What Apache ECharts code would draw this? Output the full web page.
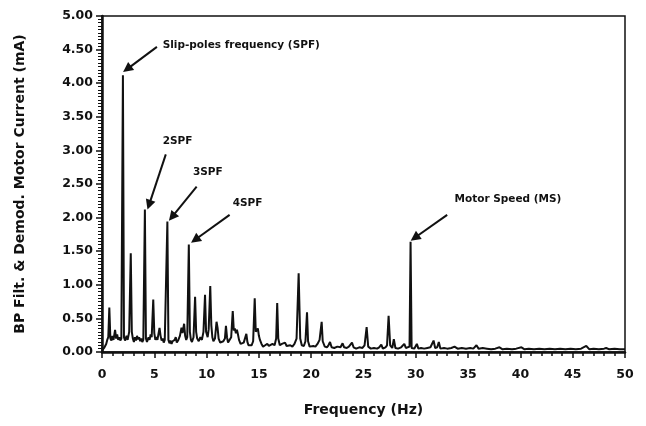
<!DOCTYPE html>
<html>
<head>
<meta charset="utf-8">
<script src="https://cdn.jsdelivr.net/npm/echarts@6.0.0/dist/echarts.min.js"></script>
<style>
  html, body { margin: 0; padding: 0; background: #fff; }
  #chart { width: 646px; height: 426px; }
</style>
</head>
<body>
<div id="chart"></div>
<script>
// spectrum: frequency (Hz) and current (mA)
var freqHz = [
  0.0, 0.2, 0.4, 0.5, 0.6, 0.7, 0.8, 0.9, 1.0, 1.1, 1.25, 1.35, 1.45, 1.55, 1.65, 1.75, 1.85,
  2.0, 2.1, 2.2, 2.35, 2.45, 2.6, 2.75, 2.85, 2.95, 3.05, 3.15, 3.25, 3.35, 3.45, 3.55, 3.65, 3.75, 3.85, 3.95,
  4.1, 4.2, 4.3, 4.45, 4.55, 4.65, 4.75, 4.9, 5.0, 5.1, 5.2, 5.3, 5.5, 5.6, 5.7, 5.8, 5.9,
  6.0, 6.1, 6.25, 6.35, 6.45, 6.55, 6.65, 6.75, 6.85, 6.95, 7.05, 7.15, 7.3, 7.45, 7.6, 7.7, 7.85, 7.95,
  8.05, 8.15, 8.3, 8.4, 8.5, 8.6, 8.75, 8.9, 9.0, 9.1, 9.25, 9.4, 9.55, 9.7, 9.85, 9.95,
  10.1, 10.2, 10.35, 10.45, 10.55, 10.65, 10.8, 10.95, 11.05, 11.15, 11.3, 11.45, 11.6, 11.75, 11.85, 11.95,
  12.05, 12.2, 12.35, 12.5, 12.6, 12.7, 12.8, 12.9, 13.0, 13.1, 13.25, 13.4, 13.55, 13.7, 13.8, 13.9,
  14.0, 14.15, 14.3, 14.45, 14.6, 14.7, 14.8, 14.9, 15.0, 15.1, 15.25, 15.4, 15.6, 15.8, 15.95,
  16.1, 16.3, 16.5, 16.65, 16.75, 16.85, 17.0, 17.2, 17.35, 17.5, 17.65, 17.8,
  18.0, 18.2, 18.4, 18.6, 18.8, 18.95, 19.1, 19.3, 19.45, 19.6, 19.7, 19.85,
  20.0, 20.2, 20.4, 20.6, 20.8, 21.0, 21.1, 21.3, 21.5, 21.65, 21.8, 21.95,
  22.2, 22.5, 22.8, 23.0, 23.15, 23.4, 23.6, 23.9, 24.05, 24.3, 24.6, 24.9,
  25.1, 25.3, 25.45, 25.7, 26.0, 26.3, 26.5, 26.7, 26.85, 27.1, 27.25, 27.4, 27.55, 27.75, 27.9,
  28.05, 28.3, 28.6, 28.9, 29.05, 29.2, 29.4, 29.5, 29.6, 29.85,
  30.1, 30.25, 30.5, 30.8, 31.1, 31.4, 31.7, 31.85, 32.05, 32.2, 32.35, 32.7, 33.0, 33.4, 33.7,
  34.0, 34.4, 34.8, 35.2, 35.5, 35.8, 36.0, 36.4, 36.8, 37.2, 37.6, 38.0, 38.3, 38.7, 39.2, 39.6,
  40.1, 40.4, 40.8, 41.3, 41.8, 42.3, 42.8, 43.3, 43.8, 44.3, 44.8, 45.3, 45.8, 46.3, 46.6,
  47.0, 47.5, 48.0, 48.2, 48.5, 49.0, 49.5, 50.0
];
var currentmA = [
  0.02, 0.06, 0.12, 0.18, 0.22, 0.66, 0.20, 0.17, 0.24, 0.18, 0.33, 0.20, 0.26, 0.18, 0.22, 0.17, 0.20,
  4.12, 0.22, 0.17, 0.24, 0.18, 0.30, 1.47, 0.30, 0.20, 0.15, 0.22, 0.17, 0.24, 0.19, 0.22, 0.16, 0.20, 0.15, 0.18,
  2.12, 0.20, 0.15, 0.22, 0.18, 0.26, 0.22, 0.78, 0.28, 0.18, 0.22, 0.18, 0.36, 0.24, 0.17, 0.20, 0.14,
  0.18, 0.16, 1.94, 0.18, 0.13, 0.17, 0.12, 0.16, 0.14, 0.18, 0.22, 0.14, 0.18, 0.24, 0.36, 0.28, 0.42, 0.24,
  0.18, 0.22, 1.60, 0.30, 0.18, 0.15, 0.22, 0.82, 0.30, 0.20, 0.16, 0.22, 0.18, 0.30, 0.85, 0.30,
  0.22, 0.34, 0.98, 0.40, 0.22, 0.16, 0.20, 0.45, 0.36, 0.20, 0.14, 0.12, 0.16, 0.20, 0.39, 0.22,
  0.14, 0.12, 0.22, 0.61, 0.32, 0.35, 0.28, 0.33, 0.26, 0.18, 0.12, 0.10, 0.14, 0.16, 0.27, 0.15,
  0.10, 0.08, 0.10, 0.16, 0.80, 0.30, 0.32, 0.35, 0.24, 0.18, 0.12, 0.08, 0.10, 0.12, 0.09,
  0.10, 0.12, 0.10, 0.20, 0.73, 0.20, 0.10, 0.12, 0.10, 0.14, 0.09, 0.11,
  0.10, 0.08, 0.12, 0.20, 1.17, 0.20, 0.10, 0.09, 0.16, 0.59, 0.16, 0.08,
  0.07, 0.09, 0.08, 0.12, 0.18, 0.45, 0.16, 0.08, 0.07, 0.10, 0.15, 0.07,
  0.06, 0.08, 0.07, 0.13, 0.07, 0.06, 0.08, 0.14, 0.07, 0.05, 0.07, 0.06,
  0.10, 0.37, 0.08, 0.05, 0.06, 0.05, 0.07, 0.11, 0.05, 0.07, 0.10, 0.54, 0.10, 0.06, 0.19,
  0.06, 0.05, 0.07, 0.12, 0.06, 0.05, 0.08, 1.64, 0.06, 0.05,
  0.12, 0.05, 0.06, 0.05, 0.06, 0.07, 0.17, 0.06, 0.07, 0.15, 0.05, 0.06, 0.05, 0.06, 0.08,
  0.05, 0.06, 0.05, 0.06, 0.05, 0.10, 0.05, 0.06, 0.05, 0.04, 0.05, 0.07, 0.04, 0.05, 0.04, 0.05,
  0.07, 0.04, 0.05, 0.04, 0.05, 0.04, 0.05, 0.04, 0.05, 0.04, 0.05, 0.04, 0.05, 0.09, 0.04,
  0.05, 0.04, 0.05, 0.06, 0.04, 0.05, 0.04, 0.04
];

// annotations: label text, label anchor, arrow tail, arrow head (data units)
var noteText = ['Slip-poles frequency (SPF)', '2SPF', '3SPF', '4SPF', 'Motor Speed (MS)'];
var noteAt   = [[5.8, 4.57], [5.8, 3.13], [8.7, 2.67], [12.5, 2.21], [33.7, 2.27]];
var arrowFrom = [[5.25, 4.54], [6.1, 2.94], [9.05, 2.46], [12.2, 2.04], [33.0, 2.04]];
var arrowTo   = [[2.4, 4.21], [4.5, 2.19], [6.7, 2.01], [8.9, 1.67], [29.9, 1.70]];

var xTicks = [0, 50, 5];
var yTicks = [0, 5, 0.5];

var ink = '#111';
var font = 'DejaVu Sans';

var points = freqHz.map(function (f, i) { return [f, currentmA[i]]; });

var chart = echarts.init(document.getElementById('chart'));
chart.setOption({
  animation: false,
  backgroundColor: '#fff',
  grid: {
    left: 102, right: 21, top: 16, bottom: 74,
    show: true, borderColor: ink, borderWidth: 1.5, backgroundColor: 'transparent'
  },
  xAxis: {
    type: 'value',
    min: xTicks[0], max: xTicks[1], interval: xTicks[2],
    name: 'Frequency (Hz)',
    nameLocation: 'middle',
    nameGap: 51,
    nameTextStyle: { color: ink, fontFamily: font, fontWeight: 'bold', fontSize: 14 },
    axisLine: { lineStyle: { color: ink, width: 2.5 } },
    axisTick: { length: 6, lineStyle: { color: ink, width: 1.5 } },
    minorTick: { show: true, splitNumber: 5, length: 4, lineStyle: { color: ink, width: 1.5 } },
    axisLabel: { color: ink, fontFamily: font, fontWeight: 'bold', fontSize: 12.5, margin: 16 },
    splitLine: { show: false }
  },
  yAxis: {
    type: 'value',
    min: yTicks[0], max: yTicks[1], interval: yTicks[2],
    name: 'BP Filt. & Demod. Motor Current (mA)',
    nameLocation: 'middle',
    nameGap: 75,
    nameTextStyle: { color: ink, fontFamily: font, fontWeight: 'bold', fontSize: 14 },
    axisLine: { lineStyle: { color: ink, width: 2.5 } },
    axisTick: { length: 6, lineStyle: { color: ink, width: 1.5 } },
    minorTick: { show: true, splitNumber: 10, length: 4, lineStyle: { color: ink, width: 1 } },
    axisLabel: {
      color: ink, fontFamily: font, fontWeight: 'bold', fontSize: 12.5, margin: 9,
      formatter: function (v) { return v.toFixed(2); }
    },
    splitLine: { show: false }
  },
  series: [{
    type: 'line',
    data: points,
    symbol: 'none',
    lineStyle: { color: ink, width: 2 },
    markLine: {
      silent: true,
      symbol: ['none', 'triangle'],
      symbolSize: 10,
      label: { show: false },
      lineStyle: { color: ink, width: 2, type: 'solid' },
      itemStyle: { color: ink },
      data: arrowFrom.map(function (p, i) {
        return [{ coord: p }, { coord: arrowTo[i] }];
      })
    },
    markPoint: {
      silent: true,
      symbol: 'circle',
      symbolSize: 0,
      label: {
        show: true, position: 'right', distance: 0,
        color: ink, fontFamily: font, fontWeight: 'bold', fontSize: 10.5,
        formatter: function (p) { return p.name; }
      },
      data: noteText.map(function (t, i) {
        return { name: t, coord: noteAt[i] };
      })
    }
  }]
});
</script>
</body>
</html>
